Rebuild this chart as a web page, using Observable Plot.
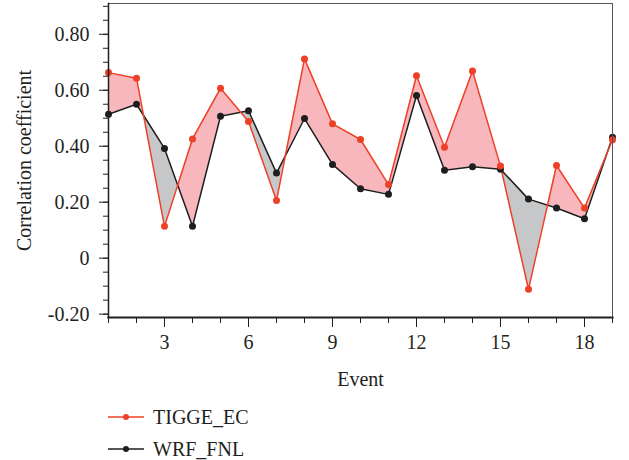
<!DOCTYPE html>
<html>
<head>
<meta charset="utf-8">
<script src="https://cdn.jsdelivr.net/npm/d3@7"></script>
<script src="https://cdn.jsdelivr.net/npm/@observablehq/plot@0.6"></script>
<style>
  body { margin: 0; background: #fff; font-family: "Liberation Serif", serif; }
  #wrap { position: relative; width: 629px; height: 460px; }
  #legend { position: absolute; left: 108px; top: 401px; font-size: 20px; line-height: 22px; color: #231f20; font-family: "Liberation Serif", serif; }
  .item { display: flex; align-items: center; height: 32px; }
  .item svg { margin-right: 9px; }
</style>
</head>
<body>
<div id="wrap">
  <div id="chart"></div>
  <div id="legend"></div>
</div>
<script>
const events = [1,2,3,4,5,6,7,8,9,10,11,12,13,14,15,16,17,18,19];
const tiggeEC = [0.663,0.643,0.114,0.426,0.607,0.488,0.206,0.712,0.480,0.424,0.263,0.652,0.396,0.669,0.329,-0.111,0.331,0.179,0.423];
const wrfFNL  = [0.514,0.550,0.392,0.114,0.507,0.527,0.304,0.499,0.335,0.248,0.228,0.581,0.314,0.327,0.318,0.211,0.179,0.141,0.432];
const xMajorTicks = [3,6,9,12,15,18];
const yMajorTicks = [-0.2,0,0.2,0.4,0.6,0.8];
const seriesNames = ["TIGGE_EC","WRF_FNL"];
const seriesColors = ["#ee4027","#1e1e1e"];
const posFill = "#f7b7bc", negFill = "#c6c7c9";
const font = "Liberation Serif";

const rows = events.map((e,i) => ({event: e, tigge: tiggeEC[i], wrf: wrfFNL[i]}));
const xMinor = d3.range(1, 20);
const yMinor = d3.range(-4, 19).map(k => +(k*0.05).toFixed(2));

const marks = [];
if (Plot.differenceY) {
  marks.push(Plot.differenceY(rows, {x: "event", y1: "wrf", y2: "tigge",
    positiveFill: posFill, negativeFill: negFill, fillOpacity: 1, stroke: "none"}));
} else {
  marks.push(Plot.areaY(rows, {x: "event", y1: "wrf", y2: "tigge", fill: posFill}));
}
marks.push(
  Plot.lineY(rows, {x: "event", y: "wrf", stroke: seriesColors[1], strokeWidth: 1.5}),
  Plot.lineY(rows, {x: "event", y: "tigge", stroke: seriesColors[0], strokeWidth: 1.5}),
  Plot.dot(rows, {x: "event", y: "wrf", fill: seriesColors[1], r: 3.5}),
  Plot.dot(rows, {x: "event", y: "tigge", fill: seriesColors[0], r: 3.5}),
  Plot.frame({stroke: "#555", strokeWidth: 1}),
  Plot.frame({anchor: "left", stroke: "#231f20", strokeWidth: 1.5}),
  Plot.frame({anchor: "bottom", stroke: "#231f20", strokeWidth: 2.2}),
  Plot.axisX({ticks: xMinor, tickSize: 6, tickFormat: () => "", stroke: "#231f20", label: null}),
  Plot.axisX({ticks: xMajorTicks, tickSize: 10, tickPadding: 7, tickFormat: d => String(d),
    label: "Event", labelAnchor: "center", labelArrow: "none", labelOffset: 68,
    fontSize: 20, fontFamily: font, fill: "#231f20", stroke: "#231f20"}),
  Plot.axisY({ticks: yMinor, tickSize: 5, tickFormat: () => "", stroke: "#231f20", label: null}),
  Plot.axisY({ticks: yMajorTicks, tickSize: 9, tickPadding: 10,
    tickFormat: d => Math.abs(d) < 1e-9 ? "0" : d.toFixed(2),
    label: "Correlation coefficient", labelAnchor: "center", labelArrow: "none", labelOffset: 92,
    fontSize: 20, fontFamily: font, fill: "#231f20", stroke: "#231f20"})
);

const chart = Plot.plot({
  width: 629,
  height: 395,
  marginLeft: 108,
  marginRight: 17,
  marginTop: 3,
  marginBottom: 78,
  style: {fontFamily: font, fontSize: "20px", color: "#231f20", background: "#fff"},
  x: {domain: [1, 19]},
  y: {domain: [-0.212, 0.91]},
  marks
});
document.getElementById("chart").appendChild(chart);

const legend = document.getElementById("legend");
seriesNames.forEach((name, i) => {
  const item = document.createElement("div");
  item.className = "item";
  item.innerHTML = `<svg width="36" height="10"><line x1="0" x2="36" y1="5" y2="5" stroke="${seriesColors[i]}" stroke-width="1.5"/><circle cx="18" cy="5" r="3" fill="${seriesColors[i]}"/></svg><span>${name}</span>`;
  legend.appendChild(item);
});
</script>
</body>
</html>
